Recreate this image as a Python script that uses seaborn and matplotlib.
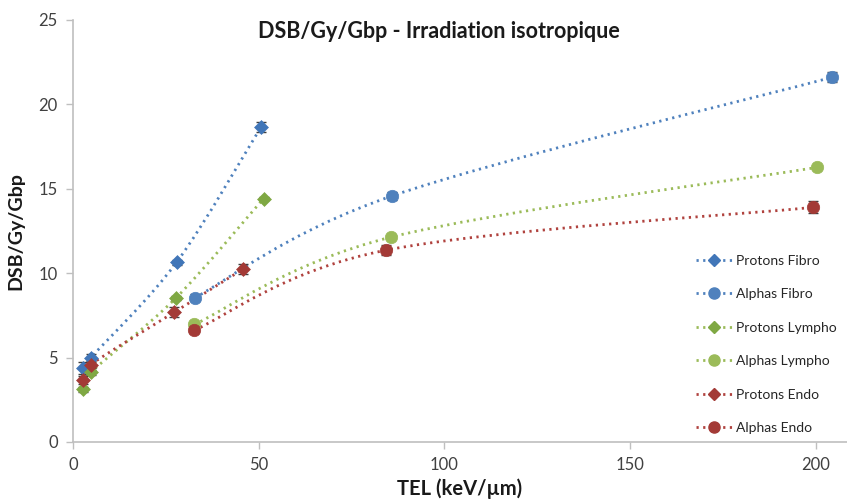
import numpy as np
import pandas as pd
import matplotlib
matplotlib.use("Agg")
import matplotlib.pyplot as plt
from matplotlib.path import Path
from matplotlib.patches import PathPatch
from matplotlib.lines import Line2D
import seaborn as sns

# ---- data ----
series_names = ["Protons Fibro", "Alphas Fibro", "Protons Lympho",
                "Alphas Lympho", "Protons Endo", "Alphas Endo"]

protons_fibro_x = [2.8, 4.8, 27.9, 50.6]
protons_fibro_y = [4.37, 4.99, 10.65, 18.65]
protons_fibro_err = [0.35, 0.25, 0.15, 0.3]

alphas_fibro_x = [32.8, 85.8, 204.3]
alphas_fibro_y = [8.55, 14.57, 21.6]
alphas_fibro_err = [0.2, 0.25, 0.3]

protons_lympho_x = [2.8, 4.8, 27.7, 51.3]
protons_lympho_y = [3.12, 4.12, 8.53, 14.42]
protons_lympho_err = [0.15, 0.15, 0.1, 0.1]

alphas_lympho_x = [32.7, 85.5, 200.4]
alphas_lympho_y = [6.97, 12.13, 16.27]
alphas_lympho_err = [0.1, 0.1, 0.1]

protons_endo_x = [2.8, 4.8, 27.2, 45.7]
protons_endo_y = [3.67, 4.58, 7.68, 10.23]
protons_endo_err = [0.25, 0.2, 0.3, 0.3]

alphas_endo_x = [32.7, 84.2, 199.3]
alphas_endo_y = [6.63, 11.36, 13.9]
alphas_endo_err = [0.15, 0.3, 0.35]

x_ticks = [0, 50, 100, 150, 200]
y_ticks = [0, 5, 10, 15, 20, 25]

title = "DSB/Gy/Gbp - Irradiation isotropique"
x_label = "TEL (keV/µm)"
y_label = "DSB/Gy/Gbp"

# ---- styling ----
BLUE_L, BLUE_M = "#4F81BD", "#4176B8"
GREEN_L, GREEN_M = "#9BBB59", "#7FA843"
RED_L, RED_M = "#B0423E", "#A33A36"
series = [
    (series_names[0], protons_fibro_x, protons_fibro_y, protons_fibro_err, BLUE_L, BLUE_M, "D"),
    (series_names[1], alphas_fibro_x, alphas_fibro_y, alphas_fibro_err, BLUE_L, BLUE_L, "o"),
    (series_names[2], protons_lympho_x, protons_lympho_y, protons_lympho_err, GREEN_L, GREEN_M, "D"),
    (series_names[3], alphas_lympho_x, alphas_lympho_y, alphas_lympho_err, GREEN_L, GREEN_L, "o"),
    (series_names[4], protons_endo_x, protons_endo_y, protons_endo_err, RED_L, RED_M, "D"),
    (series_names[5], alphas_endo_x, alphas_endo_y, alphas_endo_err, RED_L, RED_M, "o"),
]

sns.set_theme(style="white")
plt.rcParams["font.family"] = ["Lato", "DejaVu Sans"]

fig = plt.figure(figsize=(8.47, 5.03), dpi=100)
ax = fig.add_axes([73 / 847, 61 / 503, 1 - 73 / 847, (442 - 20) / 503])

DOT = (0, (0.8, 1.6))


def smooth_path(xs, ys):
    """Catmull-Rom style Bezier path through the data points (like Excel smoothing)."""
    P = np.column_stack([xs, ys]).astype(float)
    n = len(P)
    verts = [P[0]]
    codes = [Path.MOVETO]
    for i in range(n - 1):
        p0 = P[i - 1] if i > 0 else P[i]
        p1 = P[i]
        p2 = P[i + 1]
        p3 = P[i + 2] if i + 2 < n else P[i + 1]
        c1 = p1 + (p2 - p0) / 6.0
        c2 = p2 - (p3 - p1) / 6.0
        verts += [c1, c2, p2]
        codes += [Path.CURVE4] * 3
    return Path(verts, codes)


handles = []
for name, xs, ys, err, lcol, mcol, mk in series:
    patch = PathPatch(smooth_path(xs, ys), facecolor="none", edgecolor=lcol,
                      lw=2.0, linestyle=DOT, zorder=2)
    ax.add_patch(patch)
    ax.errorbar(xs, ys, yerr=err, fmt="none", ecolor="#404040", elinewidth=1.0,
                capsize=3.5, capthick=1.0, zorder=3)
    df = pd.DataFrame({"x": xs, "y": ys})
    sns.scatterplot(data=df, x="x", y="y", marker=mk, color=mcol,
                    s=50 if mk == "D" else 80, edgecolor=mcol, linewidth=0.5,
                    ax=ax, zorder=4, legend=False)
    handles.append(Line2D([], [], color=lcol, lw=2.0, linestyle=DOT, marker=mk,
                          markersize=6 if mk == "D" else 8,
                          markerfacecolor=mcol, markeredgecolor=mcol))

ax.set_xlim(0, 208.4)
ax.set_ylim(0, 25)
ax.set_xticks(x_ticks)
ax.set_yticks(y_ticks)
ax.tick_params(axis="both", which="both", direction="out", length=5, width=1,
               color="#BFBFBF", labelsize=12, labelcolor="#404040", pad=6,
               left=True, bottom=True)
for side in ["top", "right"]:
    ax.spines[side].set_visible(False)
for side in ["left", "bottom"]:
    ax.spines[side].set_color("#BFBFBF")
    ax.spines[side].set_linewidth(1.2)

ax.set_xlabel(x_label, fontsize=14.5, fontweight="bold", color="#1a1a1a", labelpad=4)
ax.set_ylabel(y_label, fontsize=14, fontweight="bold", color="#1a1a1a", labelpad=10)
fig.text(439 / 847, 1 - 32 / 503, title, ha="center", va="center",
         fontsize=15.5, fontweight="bold", color="#1a1a1a")

leg = fig.legend(handles, series_names, loc="upper left",
                 bbox_to_anchor=(690 / 847, 1 - 249 / 503), frameon=False,
                 fontsize=10, labelspacing=1.55, handlelength=2.6,
                 handletextpad=0.3, borderaxespad=0)
for t in leg.get_texts():
    t.set_color("#262626")

fig.savefig("out.png", dpi=100)
